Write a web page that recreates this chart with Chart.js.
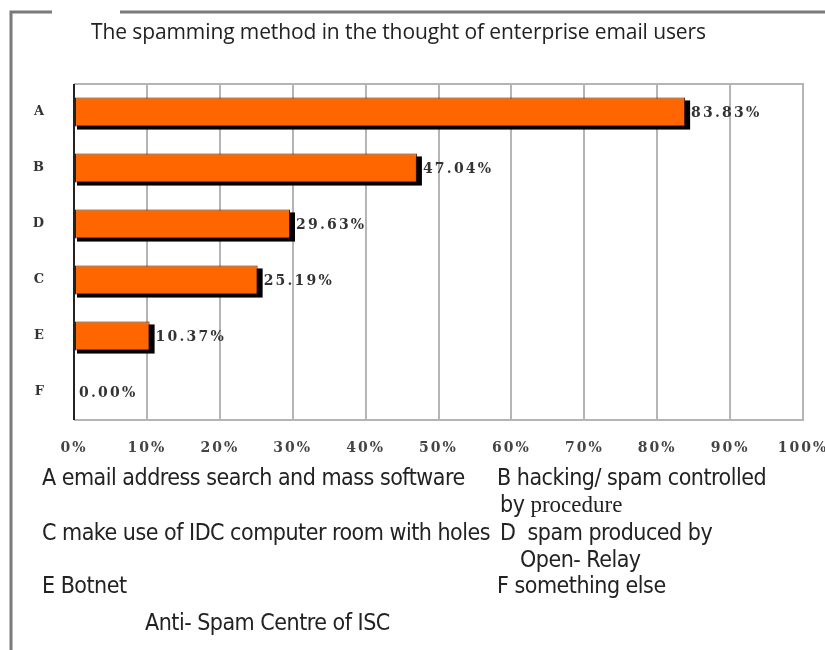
<!DOCTYPE html>
<html lang="en">
<head>
  <meta charset="UTF-8">
  <title>The spamming method in the thought of enterprise email users</title>
  <script src="https://cdn.jsdelivr.net/npm/chart.js@4.4.1/dist/chart.umd.min.js"></script>
  <style>
    body { margin: 0; background: #fff; }
    #wrap { position: relative; width: 825px; height: 650px; overflow: hidden; }
    #chart { position: absolute; left: 0; top: 0; }
    .txt { position: absolute; white-space: nowrap; color: #222; }
    .title { font-family: "Open Sans", "Noto Sans", sans-serif; font-size: 21px; letter-spacing: -0.1px; }
    .note { font-family: "Liberation Sans Narrow", "DejaVu Sans Condensed", sans-serif; font-size: 23px; letter-spacing: -0.5px; }
    .serif { font-family: "Liberation Serif", serif; letter-spacing: 0; }
  </style>
</head>
<body>
<div id="wrap">
  <canvas id="chart" width="825" height="650"></canvas>
  <div class="txt title" style="left:91px; top:17px;">The spamming method in the thought of enterprise email users</div>
  <div class="txt note" style="left:42px; top:464px;">A email address search and mass software</div>
  <div class="txt note" style="left:497px; top:464px;">B hacking/ spam controlled</div>
  <div class="txt note" style="left:500px; top:491px;">by <span class="serif">procedure</span></div>
  <div class="txt note" style="left:42px; top:519px;">C make use of IDC computer room with holes</div>
  <div class="txt note" style="left:500px; top:519px;">D&nbsp; spam produced by</div>
  <div class="txt note" style="left:520px; top:546px;">Open- Relay</div>
  <div class="txt note" style="left:42px; top:572px;">E Botnet</div>
  <div class="txt note" style="left:497px; top:572px;">F something else</div>
  <div class="txt note" style="left:145px; top:609px;">Anti- Spam Centre of ISC</div>
</div>
<script>
  // categories as ordered in the picture (top to bottom)
  const categories = ['A', 'B', 'D', 'C', 'E', 'F'];
  const shares = [83.83, 47.04, 29.63, 25.19, 10.37, 0.00];
  const xMax = 100;
  const xStep = 10;

  // outer frame with a gap in the top line, plot border
  const framePlugin = {
    id: 'frame',
    beforeDraw(chart) {
      const c = chart.ctx;
      c.letterSpacing = '2px'; // wide tick lettering
      c.save();
      c.strokeStyle = '#7a7a7a';
      c.lineWidth = 3;
      c.beginPath();
      c.moveTo(11, 650); c.lineTo(11, 12); c.lineTo(52, 12);
      c.moveTo(120, 12); c.lineTo(825, 12);
      c.stroke();
      c.restore();
    },
    afterDraw(chart) {
      const c = chart.ctx, a = chart.chartArea;
      c.save();
      c.strokeStyle = '#b5b5b5';
      c.lineWidth = 2;
      c.beginPath();
      c.moveTo(a.left, a.top); c.lineTo(a.right, a.top); c.lineTo(a.right, a.bottom); c.lineTo(a.left, a.bottom);
      c.stroke();
      c.strokeStyle = '#222';
      c.beginPath();
      c.moveTo(a.left, a.top); c.lineTo(a.left, a.bottom);
      c.stroke();
      c.restore();
    }
  };

  // black drop shadow behind the bars, taken from the bar elements
  const shadowPlugin = {
    id: 'barShadow',
    beforeDatasetDraw(chart, args) {
      const c = chart.ctx;
      c.save();
      c.fillStyle = '#000';
      args.meta.data.forEach(bar => {
        const { x, y, base, height } = bar.getProps(['x', 'y', 'base', 'height'], true);
        if (x - base < 1) return;
        c.fillRect(base + 2, y - height / 2 + 3, x - base + 3, height);
      });
      c.restore();
    }
  };

  // percentage labels right of each bar
  const valuePlugin = {
    id: 'values',
    afterDatasetsDraw(chart) {
      const c = chart.ctx;
      const meta = chart.getDatasetMeta(0);
      c.save();
      c.font = 'bold 14px "DejaVu Serif", serif';
      c.letterSpacing = '2.2px';
      c.fillStyle = '#333';
      c.textBaseline = 'middle';
      meta.data.forEach((bar, i) => {
        const off = shares[i] > 0 ? 6 : 5;
        c.fillText(shares[i].toFixed(2) + '%', bar.x + off, bar.y + 1);
      });
      c.restore();
    }
  };

  const tickFont = { family: '"DejaVu Serif", serif', size: 13, weight: 'bold' };

  new Chart(document.getElementById('chart'), {
    type: 'bar',
    data: {
      labels: categories,
      datasets: [{
        data: shares,
        backgroundColor: '#ff6600',
        borderColor: '#3a1a00',
        borderWidth: 1,
        borderSkipped: false,
        categoryPercentage: 1,
        barPercentage: 0.52
      }]
    },
    options: {
      indexAxis: 'y',
      responsive: false,
      animation: false,
      layout: { padding: { top: 84, right: 0, bottom: 180, left: 0 } },
      plugins: {
        legend: { display: false },
        tooltip: { enabled: false }
      },
      scales: {
        x: {
          min: 0,
          max: xMax,
          ticks: {
            stepSize: xStep,
            color: '#444',
            font: { ...tickFont, size: 14 },
            padding: 20,
            callback: v => v + '%'
          },
          grid: { color: '#b5b5b5', lineWidth: 2, drawTicks: false },
          border: { display: false },
          afterFit: s => { s.height = 50; s.paddingLeft = 0; s.paddingRight = 22; }
        },
        y: {
          ticks: { color: '#333', font: tickFont, padding: 20 },
          grid: { display: false },
          border: { display: false },
          afterFit: s => { s.width = 74; }
        }
      }
    },
    plugins: [framePlugin, shadowPlugin, valuePlugin]
  });
</script>
</body>
</html>
